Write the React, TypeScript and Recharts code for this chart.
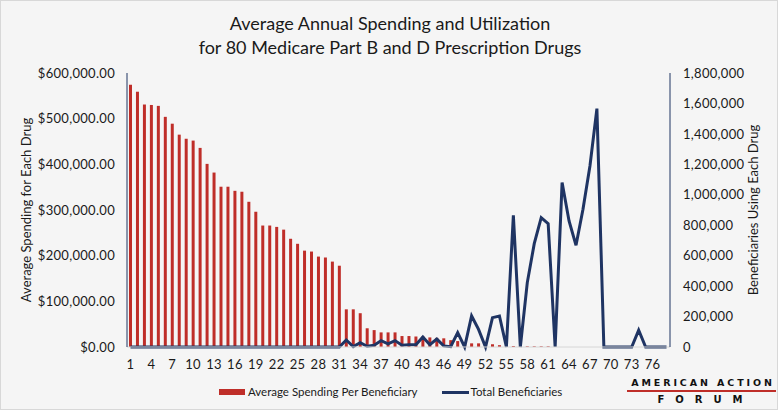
import { Bar, ComposedChart, Line, XAxis, YAxis } from "recharts";

const drugs = Array.from({ length: 78 }, (_, i) => String(i + 1));

const spending = [
  574000, 559000, 531000, 530000, 528000, 504000, 489000, 465000, 456000, 452000,
  436000, 401000, 382000, 351000, 351000, 342000, 340000, 318000, 296000, 266000,
  266000, 263000, 257000, 237000, 226000, 211000, 209000, 198000, 196000, 187000,
  178000, 82500, 82500, 74000, 41000, 37000, 32000, 32000, 32000, 24000,
  24000, 23000, 23000, 21000, 20000, 19000, 15000, 13000, 10000, 8000,
  8000, 7000, 6000, 4000, 3000, 2000, 1500, 1500, 1500, 1500,
  1500, 0, 0, 0, 0, 0, 0, 0, 0, 0,
  0, 0, 0, 0, 0, 0, 0, 0,
];

const beneficiaries = [
  0, 0, 0, 0, 0, 0, 0, 0, 0, 0,
  0, 0, 0, 0, 0, 0, 0, 0, 0, 0,
  0, 0, 0, 0, 0, 0, 0, 0, 0, 0,
  0, 46000, 3000, 28000, 5000, 11000, 42000, 20000, 42000, 11000,
  15000, 15000, 66000, 15000, 52000, 7000, 2000, 94000, 0, 204000,
  116000, 0, 193000, 204000, 0, 865000, 0, 423000, 679000, 850000,
  810000, 0, 1080000, 828000, 668000, 905000, 1189000, 1566000, 0, 0,
  0, 0, 0, 110000, 0, 0, 0, 0,
];

const leftTicks = [0, 100000, 200000, 300000, 400000, 500000, 600000];
const rightTicks = [0, 200000, 400000, 600000, 800000, 1000000, 1200000, 1400000, 1600000, 1800000];

const RED = "#bf2e29";
const NAVY = "#1f3463";
const FONT = "Lato, 'Open Sans', sans-serif";

const data = drugs.map((d, i) => ({ drug: d, spending: spending[i], beneficiaries: beneficiaries[i] }));

const money = (v: number) =>
  "$" + v.toLocaleString("en-US", { minimumFractionDigits: 2, maximumFractionDigits: 2 });
const count = (v: number) => v.toLocaleString("en-US");

export default function App() {
  const tick = { fill: "#1a1a1a", fontSize: 13, fontFamily: FONT, letterSpacing: 0.3 };
  return (
    <div
      style={{
        position: "absolute",
        left: 0,
        top: 0,
        width: 778,
        height: 410,
        boxSizing: "border-box",
        border: "1px solid #d8d8d8",
        background: "#f5f5f5",
        fontFamily: FONT,
        color: "#1a1a1a",
      }}
    >
      <div style={{ position: "absolute", left: 0, top: 10, width: 778, textAlign: "center", fontSize: 18, lineHeight: "24px" }}>
        Average Annual Spending and Utilization
        <br />
        for 80 Medicare Part B and D Prescription Drugs
      </div>
      <div style={{ position: "absolute", left: -1, top: -1 }}>
        <ComposedChart width={778} height={410} data={data} margin={{ top: 73, right: 8, bottom: 43, left: 20 }} barCategoryGap={0}>
          <XAxis
            dataKey="drug"
            interval={2}
            tickLine={false}
            tickSize={0}
            tickMargin={13}
            axisLine={{ stroke: "#d6d6d6" }}
            tick={tick}
            height={20}
          />
          <YAxis
            yAxisId="left"
            domain={[0, 600000]}
            ticks={leftTicks}
            tickFormatter={money}
            tickLine={false}
            tickSize={0}
            tickMargin={12}
            axisLine={{ stroke: NAVY }}
            tick={tick}
            width={107}
            label={{
              value: "Average Spending for Each Drug",
              angle: -90,
              position: "insideLeft",
              offset: 6,
              style: { textAnchor: "middle", fontSize: 13, fontFamily: FONT, fill: "#1a1a1a" },
            }}
          />
          <YAxis
            yAxisId="right"
            orientation="right"
            domain={[0, 1800000]}
            ticks={rightTicks}
            tickFormatter={count}
            tickLine={false}
            tickSize={0}
            tickMargin={13}
            axisLine={{ stroke: NAVY }}
            tick={tick}
            width={100}
            label={{
              value: "Beneficiaries Using Each Drug",
              angle: -90,
              position: "insideRight",
              offset: 17,
              style: { textAnchor: "middle", fontSize: 13, fontFamily: FONT, fill: "#1a1a1a" },
            }}
          />
          <Bar yAxisId="left" dataKey="spending" fill={RED} barSize={3} isAnimationActive={false} />
          <Line
            yAxisId="right"
            dataKey="beneficiaries"
            type="linear"
            stroke={NAVY}
            strokeWidth={3}
            dot={false}
            isAnimationActive={false}
          />
        </ComposedChart>
      </div>
      <div style={{ position: "absolute", left: 218, top: 383, display: "flex", alignItems: "center", fontSize: 11.5, lineHeight: "16px" }}>
        <span style={{ display: "inline-block", width: 26, height: 6, background: RED, marginRight: 3 }} />
        <span>Average Spending Per Beneficiary</span>
        <span style={{ display: "inline-block", width: 27, height: 3, background: NAVY, marginLeft: 24, marginRight: 2 }} />
        <span>Total Beneficiaries</span>
      </div>
      <div style={{ position: "absolute", left: 626, top: 376, width: 149, textAlign: "center", fontFamily: "'DejaVu Sans', sans-serif", fontWeight: 700 }}>
        <div style={{ fontSize: 9.5, letterSpacing: 2.9, lineHeight: "12px", color: "#111", paddingLeft: 3 }}>AMERICAN ACTION</div>
        <div style={{ height: 2, background: RED, margin: "1px 0 2px" }} />
        <div style={{ fontSize: 10, letterSpacing: 11, lineHeight: "12px", color: "#111", paddingLeft: 8 }}>FORUM</div>
      </div>
    </div>
  );
}
